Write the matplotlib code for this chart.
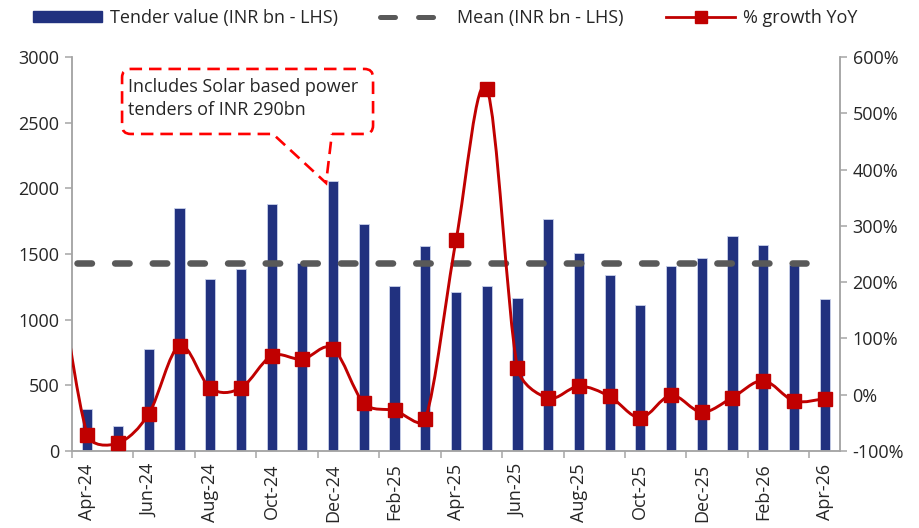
import numpy as np
import matplotlib
matplotlib.use('Agg')
import matplotlib.pyplot as plt
from matplotlib.path import Path
from matplotlib.patches import PathPatch, Patch
from matplotlib.lines import Line2D
from matplotlib.ticker import FuncFormatter

MONTHS = ["Apr-24", "May-24", "Jun-24", "Jul-24", "Aug-24", "Sep-24", "Oct-24",
          "Nov-24", "Dec-24", "Jan-25", "Feb-25", "Mar-25", "Apr-25", "May-25",
          "Jun-25", "Jul-25", "Aug-25", "Sep-25", "Oct-25", "Nov-25", "Dec-25",
          "Jan-26", "Feb-26", "Mar-26", "Apr-26"]
TENDER_VALUE = [320, 190, 779, 1852, 1311, 1385, 1883, 1428, 2058, 1725, 1253,
                1563, 1210, 1258, 1164, 1766, 1509, 1337, 1111, 1408, 1469, 1638,
                1568, 1416, 1154]
GROWTH_YOY = [-71, -86, -34, 87, 12, 12, 69, 63, 82, -15, -28, -43, 274, 544,
              48, -6, 15, -3, -41, -1, -31, -5, 25, -11, -7]
GROWTH_MAR24 = 245      # previous month, only its curve enters at the left edge
MEAN_VALUE = 1428

NAVY = '#21317F'
RED = '#C00000'
GREY = '#595959'
AXIS_GREY = '#A6A6A6'
TXT = '#262626'
FS = 13

plt.rcParams['font.family'] = ['Open Sans', 'DejaVu Sans']
plt.rcParams['lines.scale_dashes'] = False


def smooth_path(a, xs, ys, k=0.4):
    """Excel-like smoothed line: Catmull-Rom handles computed on screen,
    each clamped to k * segment length so short segments don't overshoot."""
    trans = a.transData
    p = trans.transform(np.column_stack([xs, ys]).astype(float))
    n = len(p)
    tang = np.array([(p[min(i + 1, n - 1)] - p[max(i - 1, 0)]) / 6 for i in range(n)])
    verts = [p[0]]
    codes = [Path.MOVETO]
    for i in range(n - 1):
        seg = np.hypot(*(p[i + 1] - p[i]))
        h1, h2 = tang[i].copy(), tang[i + 1].copy()
        for h in (h1, h2):
            ln = np.hypot(*h)
            if ln > k * seg:
                h *= k * seg / ln
        verts += [p[i] + h1, p[i + 1] - h2, p[i + 1]]
        codes += [Path.CURVE4] * 3
    data = trans.inverted().transform(np.array(verts))
    return Path(data, codes)


fig = plt.figure(figsize=(9.2, 5.28), dpi=100)
ax = fig.add_axes([72 / 920, 1 - 451 / 528, 768 / 920, 394 / 528])
ax2 = ax.twinx()

x = np.arange(len(MONTHS))
ax.bar(x, TENDER_VALUE, width=0.33, color=NAVY, edgecolor='#C9D1EA', linewidth=0.6,
       zorder=2)
ax.plot([-0.35, 23.4], [MEAN_VALUE, MEAN_VALUE], color=GREY, lw=4.7,
        ls=(0, (10.4, 16.7)), dash_capstyle='round', zorder=3)

ax.set_xlim(-0.5, len(MONTHS) - 0.5)
ax.set_ylim(0, 3000)
ax.set_yticks(np.arange(0, 3001, 500))
ax2.set_ylim(-100, 600)
ax2.set_yticks(np.arange(-100, 601, 100))
ax2.yaxis.set_major_formatter(FuncFormatter(lambda v, p: f"{v:.0f}%"))

# growth line: smoothed curve + square markers
gx = np.concatenate([[-1], x])
gy = [GROWTH_MAR24] + GROWTH_YOY
ax2.add_patch(PathPatch(smooth_path(ax2, gx, gy), fill=False, edgecolor=RED, lw=2.1,
                        zorder=4))
ax2.plot(x, GROWTH_YOY, ls='none', marker='s', ms=10, color=RED, zorder=5)

# x ticks: marks between categories, labels every other month
ax.set_xticks(np.arange(-0.5, len(MONTHS) - 1, 2))
ax.set_xticklabels([])
ax.set_xticks(x[::2], minor=True)
ax.set_xticklabels(MONTHS[::2], minor=True, rotation=90, fontsize=FS, color=TXT)
ax.tick_params(axis='x', which='minor', length=0, pad=9)
ax.tick_params(axis='x', which='major', length=5, width=1.1, color=AXIS_GREY)
ax.tick_params(axis='y', length=5, width=1.1, color=AXIS_GREY, labelsize=FS,
               labelcolor=TXT, pad=4)
ax2.tick_params(axis='y', length=5, width=1.1, color=AXIS_GREY, labelsize=FS,
                labelcolor=TXT, pad=4)

for a in (ax, ax2):
    a.spines['top'].set_visible(False)
    for s in ('left', 'right', 'bottom'):
        a.spines[s].set_color(AXIS_GREY)
        a.spines[s].set_linewidth(1.1)

# callout box
x0, x1, y0, y1 = 1.13, 9.3, 2414, 2909
rx, ry = 0.28, 65
bx1, bx2, tip = 6.04, 7.96, (7.77, 2041)
verts = [(bx2, y0), (x1 - rx, y0), (x1, y0), (x1, y0 + ry), (x1, y1 - ry),
         (x1, y1), (x1 - rx, y1), (x0 + rx, y1), (x0, y1), (x0, y1 - ry),
         (x0, y0 + ry), (x0, y0), (x0 + rx, y0), (bx1, y0), tip, (bx2, y0)]
codes = [Path.MOVETO, Path.LINETO, Path.CURVE3, Path.CURVE3, Path.LINETO,
         Path.CURVE3, Path.CURVE3, Path.LINETO, Path.CURVE3, Path.CURVE3,
         Path.LINETO, Path.CURVE3, Path.CURVE3, Path.LINETO, Path.LINETO,
         Path.LINETO]
ax.add_patch(PathPatch(Path(verts, codes), fill=False, edgecolor='#FF0000', lw=1.9,
                       ls=(0, (9, 5)), zorder=6, clip_on=False))
ax.text(1.32, 2731, "Includes Solar based power", fontsize=FS, color=TXT,
        va='baseline', ha='left', zorder=7)
ax.text(1.32, 2558, "tenders of INR 290bn", fontsize=FS, color=TXT,
        va='baseline', ha='left', zorder=7)

handles = [
    Patch(facecolor=NAVY, edgecolor=NAVY),
    Line2D([], [], color=GREY, lw=3.6, ls=(0, (10.8, 16.6)), dash_capstyle='round'),
    Line2D([], [], color=RED, lw=2.0, marker='s', ms=8),
]
labels = ["Tender value (INR bn - LHS)", "Mean (INR bn - LHS)", "% growth YoY"]
fig.legend(handles, labels, loc='center left', bbox_to_anchor=(33 / 920, 1 - 18 / 528),
           ncol=3, frameon=False, fontsize=FS, handlelength=3.82, handleheight=0.62,
           handletextpad=0.44, columnspacing=2.35, labelcolor=TXT, borderpad=0,
           borderaxespad=0)

fig.savefig("out.png", dpi=100)
